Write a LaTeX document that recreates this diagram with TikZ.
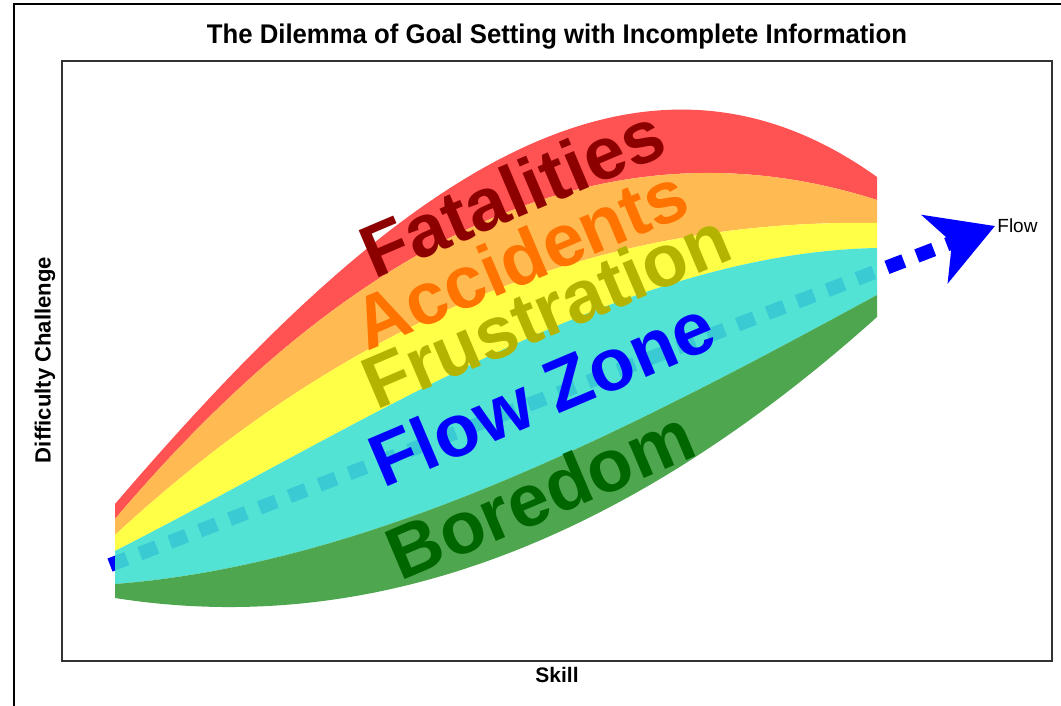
\documentclass[tikz,border=0pt]{standalone}
\usepackage{fontspec}
\setmainfont{Liberation Sans}
\usepackage{graphicx}
\usetikzlibrary{arrows.meta}
\definecolor{fatal}{HTML}{FF5252}
\definecolor{accid}{HTML}{FFBA52}
\definecolor{frust}{HTML}{FFFF47}
\definecolor{zone}{RGB}{64,224,208}
\definecolor{bored}{HTML}{4EA64E}
\definecolor{frusttext}{HTML}{B4B400}

\begin{document}
\begin{tikzpicture}[x=0.5pt, y=-0.5pt,
  big/.style={font=\fontsize{37}{37}\selectfont\bfseries, rotate=23}]
\useasboundingbox (0,0) rectangle (1061,706);
\draw[line width=1pt] (14,706) -- (14,4) -- (1061,4);
\draw[line width=1pt, black!80] (62,61) rectangle (1052,661);
\node[font=\fontsize{13.5}{14}\selectfont\bfseries] (title) at (557,37) {\resizebox{350pt}{\height}{The Dilemma of Goal Setting with Incomplete Information}};
\node[font=\fontsize{10.5}{11}\selectfont\bfseries] (skill) at (557,675) {Skill};
\node[font=\fontsize{11}{11}\selectfont\bfseries, rotate=90] (diff) at (45,360) {\resizebox{103pt}{\height}{Difficulty Challenge}};
\coordinate (start) at (110,565);
\node[anchor=west, inner sep=1pt, font=\fontsize{9.5}{10}\selectfont] (flow) at (995,226) {Flow};
\draw[blue, line width=7pt, dash pattern=on 9pt off 7pt, -{Stealth[length=32pt, width=36pt, inset=9pt]}] (start) -- (flow.west);
\fill[fatal] (115,504) .. controls (369,207.5) and (623,-5) .. (877,177)
  -- (877,200) .. controls (623,118.8) and (369,219.2) .. (115,519) -- cycle;
\fill[accid] (115,519) .. controls (369,219.2) and (623,118.8) .. (877,200)
  -- (877,223) .. controls (623,219) and (369,300.5) .. (115,535) -- cycle;
\fill[frust] (115,535) .. controls (369,300.5) and (623,219) .. (877,223)
  -- (877,248) .. controls (623,253) and (369,421.5) .. (115,551) -- cycle;
\fill[zone, opacity=0.9] (115,551) .. controls (369,421.5) and (623,253) .. (877,248)
  -- (877,295) .. controls (623,433.3) and (369,564.2) .. (115,584) -- cycle;
\fill[bored] (115,584) .. controls (369,564.2) and (623,433.3) .. (877,295)
  -- (877,317) .. controls (623,544.8) and (369,638.1) .. (115,598) -- cycle;
\node[big, text=red!55!black] (fat) at (512,192) {Fatalities};
\node[big, text=orange!90!red] (acc) at (520,258) {Accidents};
\node[big, text=frusttext] (fru) at (546,310) {Frustration};
\node[big, text=blue] (fz) at (542,393) {Flow Zone};
\node[big, text=green!40!black] (bor) at (540,494) {Boredom};
\end{tikzpicture}
\end{document}
